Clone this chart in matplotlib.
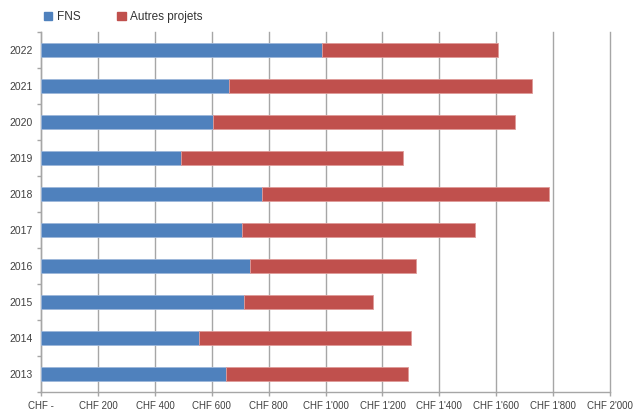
import numpy as np
import matplotlib
matplotlib.use("Agg")
import matplotlib.pyplot as plt
from matplotlib.patches import Patch

plt.rcParams['font.family'] = ['Liberation Sans', 'DejaVu Sans']

# Data (CHF)
years = ['2013', '2014', '2015', '2016', '2017', '2018', '2019', '2020', '2021', '2022']
fns = [649, 556, 713, 734, 707, 775, 491, 604, 661, 986]
autres = [642, 743, 453, 583, 817, 1011, 782, 1063, 1066, 621]
x_ticks = [0, 200, 400, 600, 800, 1000, 1200, 1400, 1600, 1800, 2000]
x_labels = ['CHF -', 'CHF 200', 'CHF 400', 'CHF 600', 'CHF 800', "CHF 1'000",
            "CHF 1'200", "CHF 1'400", "CHF 1'600", "CHF 1'800", "CHF 2'000"]

blue = '#4F81BD'
red = '#C0504D'
grid_col = '#A6A6A6'
txt_col = '#404040'

fig = plt.figure(figsize=(6.34, 4.12), dpi=100)
ax = fig.add_axes([0.0651, 0.0485, 0.8969, 0.8735])

y = np.arange(len(years))
ax.barh(y, fns, height=0.39, color=blue, edgecolor='#9DB7DA', linewidth=0.6, zorder=3)
ax.barh(y, autres, left=fns, height=0.39, color=red, edgecolor='#DE9A98', linewidth=0.6, zorder=3)

ax.set_xlim(0, 2000)
ax.set_ylim(-0.5, len(years) - 0.5)

ax.set_xticks(x_ticks)
ax.set_xticklabels(x_labels, fontsize=7, color=txt_col)
ax.set_yticks(y)
ax.set_yticklabels(years, fontsize=7.5, color=txt_col)
ax.set_yticks(np.arange(-0.5, len(years), 1), minor=True)

ax.tick_params(axis='y', which='major', length=0, pad=6)
ax.tick_params(axis='y', which='minor', length=3, color=grid_col, width=1)
ax.tick_params(axis='x', which='major', length=3, color=grid_col, width=1, pad=3.5)

ax.grid(axis='x', color=grid_col, linewidth=1, zorder=0)
for line in ax.get_xgridlines():
    line.set_clip_on(False)
for s in ['top', 'right']:
    ax.spines[s].set_visible(False)
for s in ['left', 'bottom']:
    ax.spines[s].set_color(grid_col)
    ax.spines[s].set_linewidth(1)

handles = [Patch(facecolor=blue, edgecolor=blue), Patch(facecolor=red, edgecolor=red)]
fig.legend(handles, ['FNS', 'Autres projets'], loc='upper left', bbox_to_anchor=(0.053, 0.998),
           ncol=2, frameon=False, fontsize=8.5, handlelength=0.7, handleheight=0.7,
           handletextpad=0.4, columnspacing=3.1, labelcolor='#333333')

fig.savefig('out.png', dpi=100)
